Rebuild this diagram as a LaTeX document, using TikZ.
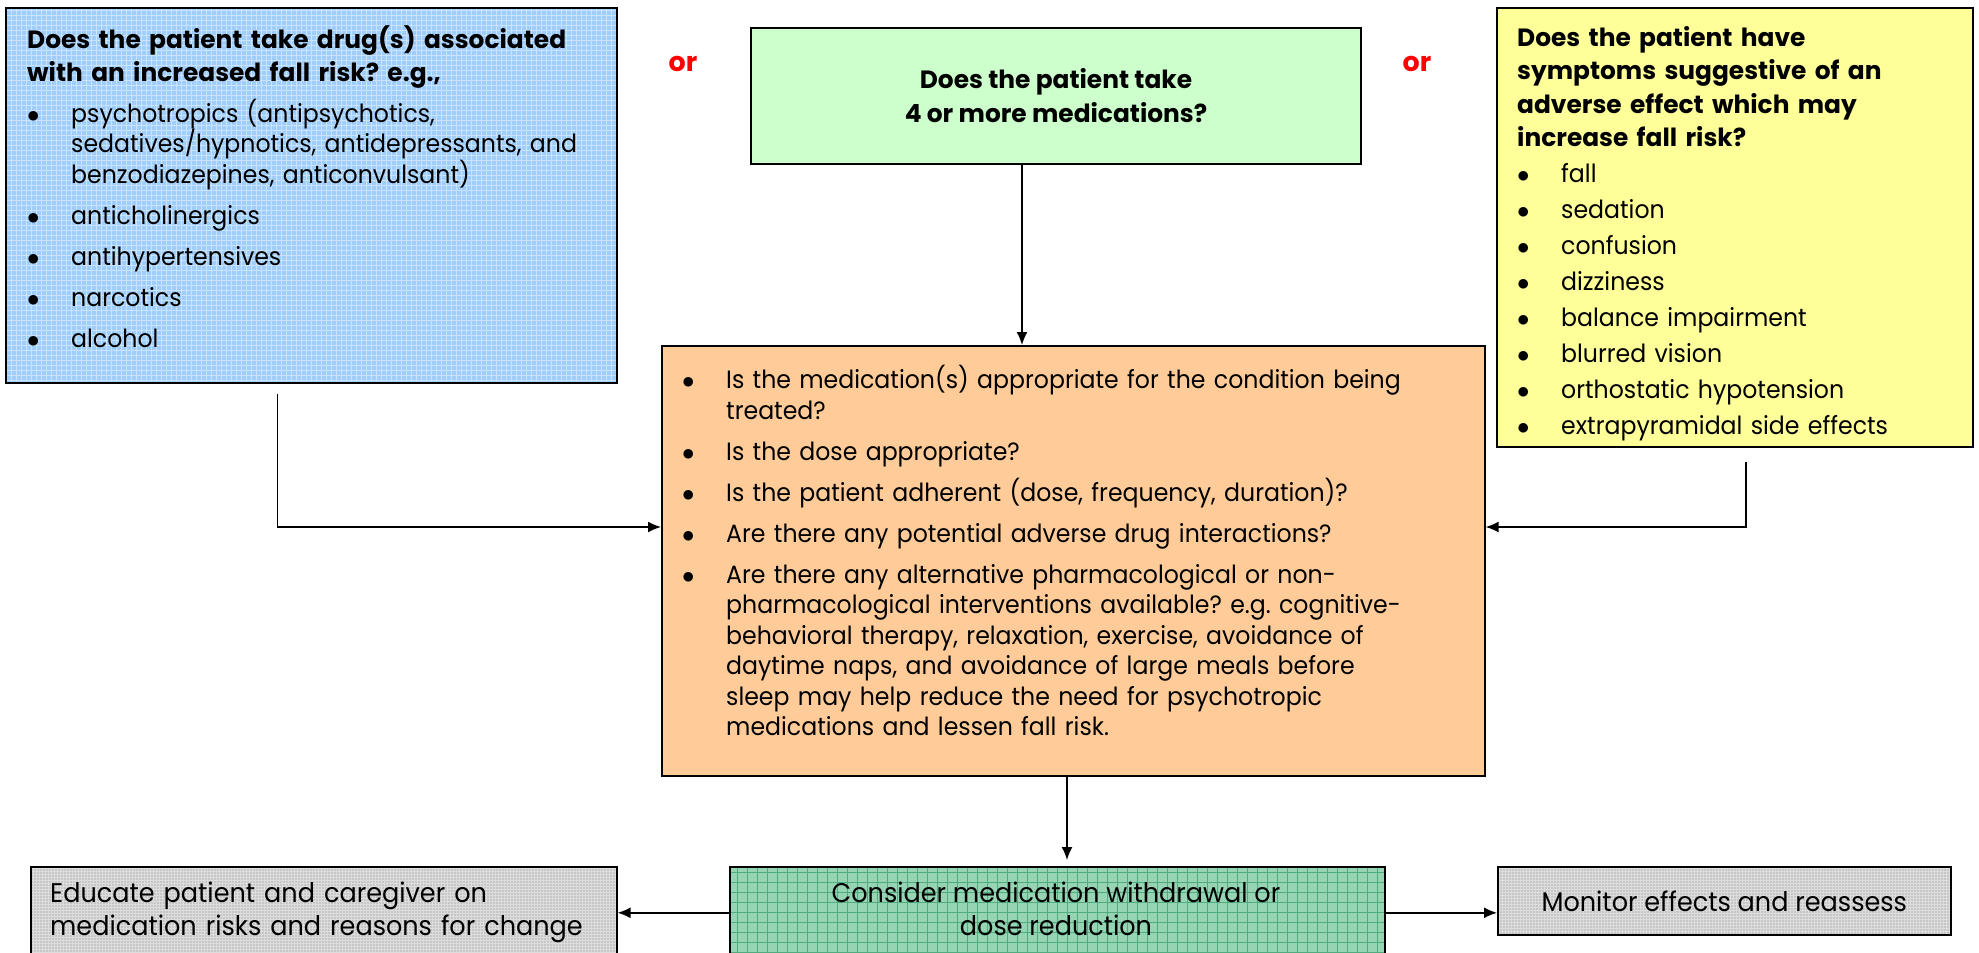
\documentclass[tikz,border=0pt]{standalone}
\usepackage{fontspec}
\setmainfont{Poppins}[FakeStretch=0.945, BoldFeatures={FakeStretch=0.995}]
\usetikzlibrary{arrows.meta}

\definecolor{drugblue}{RGB}{160,206,252}
\definecolor{medgreen}{RGB}{204,255,204}
\definecolor{symyellow}{RGB}{255,255,153}
\definecolor{revorange}{RGB}{255,204,153}
\definecolor{actgreen}{RGB}{150,212,180}
\definecolor{actgrid}{RGB}{78,172,126}
\definecolor{stepgray}{RGB}{198,198,198}

\newcommand{\bitem}[2][10.5pt]{\par\vspace{#1}\leftskip=44pt\noindent\hspace*{-44pt}\makebox[44pt][l]{$\bullet$}#2}

\tikzset{
  box/.style={draw, line width=1.6pt, anchor=north west, inner sep=0pt},
  txt/.style={anchor=north west, inner sep=0pt, align=left, font=\fontsize{25}{30.5}\selectfont\frenchspacing},
  flow/.style={line width=1.5pt, -{Latex[length=13pt,width=11pt]}},
  gridded/.style={path picture={\draw[#1] (path picture bounding box.south west) grid (path picture bounding box.north east);}},
  ortext/.style={text=red, font=\fontsize{27}{30}\selectfont\bfseries}
}

\begin{document}
\begin{tikzpicture}[x=1pt, y=-1pt]
		%%%%% START %%%%%
		\useasboundingbox (0,0) rectangle (1979,953);
		
		% question boxes
		\node[box, fill=drugblue, minimum width=611pt, minimum height=375pt,
		      gridded={white!45!drugblue, line width=0.8pt, step=5pt}] (drugs) at (5,7) {};
		\node[box, fill=medgreen, minimum width=610pt, minimum height=136pt, anchor=center,
		      align=center, font=\fontsize{25}{34}\selectfont\bfseries] (meds) at (1056,96)
		      {Does the patient take\\4 or more medications?};
		\node[box, fill=symyellow, minimum width=476pt, minimum height=439pt] (symptoms) at (1496,7) {};
		
		\node[ortext] (orleft) at (683,64) {or};
		\node[ortext] (orright) at (1417,64) {or};
		
		% review box
		\node[box, fill=revorange, minimum width=823pt, minimum height=430pt] (review) at (661,345) {};
		
		% actions
		\node[box, fill=stepgray, minimum width=586pt, minimum height=92pt,
		      gridded={white!40!stepgray, line width=0.6pt, step=3pt}] (educate) at (30,866) {};
		\node[box, fill=actgreen, minimum width=655pt, minimum height=92pt,
		      gridded={actgrid, line width=1pt, step=10pt}] (consider) at (729,866) {};
		\node[box, fill=stepgray, minimum width=453pt, minimum height=68pt,
		      gridded={white!40!stepgray, line width=0.6pt, step=3pt}] (monitor) at (1497,866) {};
		
		% texts
		\node[txt, text width=585pt] (drugstxt) at (27,25) {%
			{\noindent\bfseries\fontsize{25}{33}\selectfont\rule{0pt}{22pt}Does the patient take drug(s) associated\\with an increased fall risk? e.g.,\par}
			\bitem{psychotropics (antipsychotics,\\sedatives/hypnotics, antidepressants, and\\benzodiazepines, anticonvulsant)}
			\bitem{anticholinergics}
			\bitem{antihypertensives}
			\bitem{narcotics}
			\bitem{alcohol}\par};
		
		\node[txt, text width=455pt] (symtxt) at (1517,24) {%
			{\noindent\bfseries\fontsize{25}{33.5}\selectfont\rule{0pt}{22pt}Does the patient have\\symptoms suggestive of an\\adverse effect which may\\increase fall risk?\par}
			\bitem[5.5pt]{fall}
			\bitem[5.5pt]{sedation}
			\bitem[5.5pt]{confusion}
			\bitem[5.5pt]{dizziness}
			\bitem[5.5pt]{balance impairment}
			\bitem[5.5pt]{blurred vision}
			\bitem[5.5pt]{orthostatic hypotension}
			\bitem[5.5pt]{extrapyramidal side effects}\par};
		
		\node[txt, text width=800pt] (revtxt) at (682,358) {%
			\bitem[0pt]{\rule{0pt}{22pt}Is the medication(s) appropriate for the condition being\\treated?}
			\bitem{Is the dose appropriate?}
			\bitem{Is the patient adherent (dose, frequency, duration)?}
			\bitem{Are there any potential adverse drug interactions?}
			\bitem{Are there any alternative pharmacological or non-\\pharmacological interventions available? e.g. cognitive-\\behavioral therapy, relaxation, exercise, avoidance of\\daytime naps, and avoidance of large meals before\\sleep may help reduce the need for psychotropic\\medications and lessen fall risk.}\par};
		
		\node[txt, text width=565pt, font=\fontsize{27}{33}\selectfont] (edutxt) at (50,878)
			{\rule{0pt}{24pt}Educate patient and caregiver on\\medication risks and reasons for change};
		\node[txt, anchor=north, align=center, font=\fontsize{27}{33}\selectfont] (constxt) at (1056,878)
			{\rule{0pt}{24pt}Consider medication withdrawal or\\dose reduction};
		\node[inner sep=0pt, font=\fontsize{27}{33}\selectfont] (montxt) at (monitor.center) {Monitor effects and reassess};
		
		% connectors
		\draw[flow] (meds.south -| 1022,0) -- (review.north -| 1022,0);
		\draw[flow] ([xshift=-34pt,yshift=-10pt]drugs.south) |- (review.west |- 0,527);
		\draw[flow] ([xshift=11pt,yshift=-14pt]symptoms.south) |- (review.east |- 0,527);
		\draw[flow, shorten >=6pt] (review.south -| 1067,0) -- (consider.north -| 1067,0);
		\draw[flow] (consider.west) -- (educate.east);
		\draw[flow] (consider.east) -- (consider.east -| monitor.west);
		
		%%%%% END %%%%%
\end{tikzpicture}
\end{document}
